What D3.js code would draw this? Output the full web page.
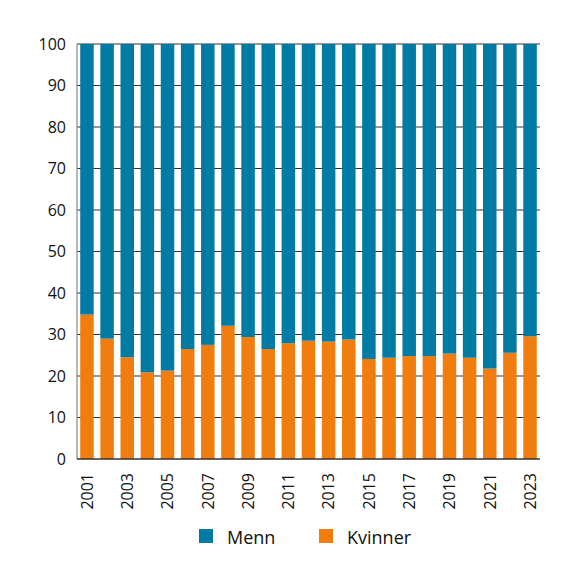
<!DOCTYPE html>
<html>
<head>
<meta charset="utf-8">
<script src="https://cdn.jsdelivr.net/npm/d3@7"></script>
<style>
  body { margin: 0; background: #fff; }
  svg text { font-family: "Open Sans", "Noto Sans", sans-serif; fill: #111; }
</style>
</head>
<body>
<svg id="chart"></svg>
<script>
var width = 576,
	height = 568;

// data (share of women, per cent)
var years = [2001, 2002, 2003, 2004, 2005, 2006, 2007, 2008, 2009, 2010, 2011, 2012,
	2013, 2014, 2015, 2016, 2017, 2018, 2019, 2020, 2021, 2022, 2023];
var kvinner = [34.8, 29.0, 24.5, 20.9, 21.3, 26.5, 27.5, 32.1, 29.4, 26.5, 27.9, 28.5,
	28.3, 28.8, 24.1, 24.4, 24.8, 24.8, 25.4, 24.4, 21.8, 25.6, 29.6];
var menn = kvinner.map((k) => 100 - k);
var yTicks = [0, 10, 20, 30, 40, 50, 60, 70, 80, 90, 100];
var seriesNames = ["Menn", "Kvinner"];
var colors = ["#007ba4", "#f07d0e"];

var margin = { top: 44, right: 36, bottom: 109, left: 77 };

var svg = d3.select("#chart").attr("width", width).attr("height", height);

var x = d3
	.scaleBand()
	.domain(years)
	.range([margin.left, width - margin.right])
	.paddingInner(0.33)
	.paddingOuter(0.16);
var y = d3
	.scaleLinear()
	.domain([0, 100])
	.range([height - margin.bottom, margin.top]);

// grid
svg.append("g")
	.selectAll("line")
	.data(yTicks.slice(1))
	.enter()
	.append("line")
	.attr("x1", margin.left)
	.attr("x2", width - margin.right)
	.attr("y1", (d) => y(d))
	.attr("y2", (d) => y(d))
	.attr("stroke", "#333")
	.attr("stroke-width", 1.1);

// stacked bars
var rows = years.map((yr, i) => ({ year: yr, Kvinner: kvinner[i], Menn: menn[i] }));
var stack = d3.stack().keys(["Kvinner", "Menn"])(rows);
svg.append("g")
	.selectAll("g")
	.data(stack)
	.enter()
	.append("g")
	.attr("fill", (s) => colors[seriesNames.indexOf(s.key)])
	.selectAll("rect")
	.data((s) => s)
	.enter()
	.append("rect")
	.attr("x", (d) => x(d.data.year))
	.attr("width", x.bandwidth())
	.attr("y", (d) => y(d[1]))
	.attr("height", (d) => y(d[0]) - y(d[1]));

// y axis
svg.append("line")
	.attr("x1", margin.left)
	.attr("x2", margin.left)
	.attr("y1", y(0))
	.attr("y2", y(100))
	.attr("stroke", "#888")
	.attr("stroke-width", 1.2);
svg.append("g")
	.selectAll("text")
	.data(yTicks)
	.enter()
	.append("text")
	.attr("x", margin.left - 11)
	.attr("y", (d) => y(d))
	.attr("dy", "0.36em")
	.attr("text-anchor", "end")
	.style("font-size", "16px")
	.text((d) => d);

// x axis
svg.append("line")
	.attr("x1", margin.left)
	.attr("x2", width - margin.right)
	.attr("y1", y(0))
	.attr("y2", y(0))
	.attr("stroke", "#333")
	.attr("stroke-width", 1.3);
svg.append("g")
	.selectAll("text")
	.data(years.filter((yr, i) => i % 2 == 0))
	.enter()
	.append("text")
	.attr("transform", (d) => `translate(${x(d) + x.bandwidth() / 2},${y(0) + 14}) rotate(-90)`)
	.attr("dy", "0.36em")
	.attr("text-anchor", "end")
	.style("font-size", "16px")
	.text((d) => d);

// legend
var legend = svg
	.append("g")
	.selectAll("g")
	.data(seriesNames)
	.enter()
	.append("g")
	.attr("transform", (d, i) => `translate(${199 + i * 120},529)`);
legend.append("rect").attr("width", 14).attr("height", 14).attr("fill", (d, i) => colors[i]);
legend
	.append("text")
	.attr("x", 28)
	.attr("y", 14.5)
	.style("font-size", "18px")
	.text((d) => d);
</script>
</body>
</html>
